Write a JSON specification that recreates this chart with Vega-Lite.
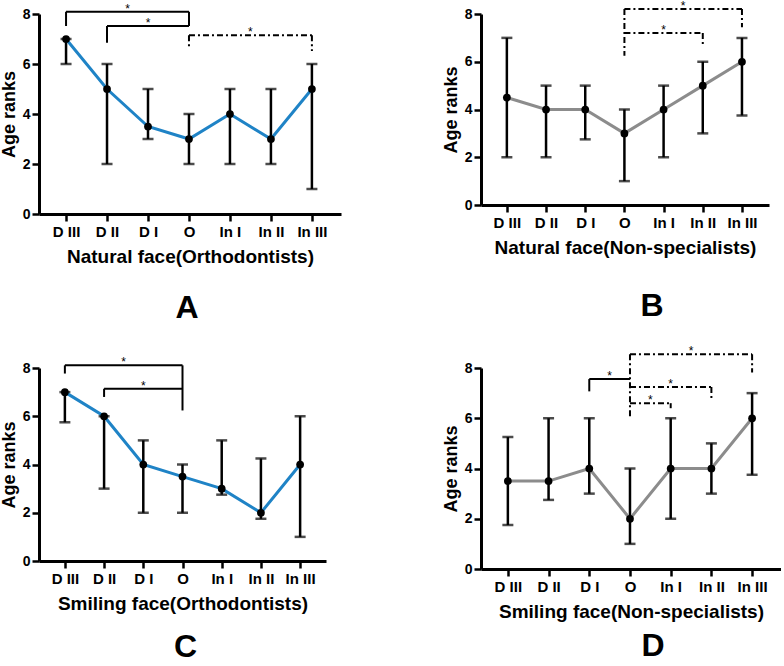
{
  "$schema": "https://vega.github.io/schema/vega-lite/v6.json",
  "background": "white",
  "padding": {"left": 0, "top": -1, "right": 0, "bottom": 0},
  "columns": 2,
  "bounds": "flush",
  "spacing": {"row": 154, "column": 140},
  "datasets": {
    "natOrth": [
      {"group": "D III", "index": 0, "median": 7, "low": 6, "high": 7},
      {"group": "D II", "index": 1, "median": 5, "low": 2, "high": 6},
      {"group": "D I", "index": 2, "median": 3.5, "low": 3, "high": 5},
      {"group": "O", "index": 3, "median": 3, "low": 2, "high": 4},
      {"group": "In I", "index": 4, "median": 4, "low": 2, "high": 5},
      {"group": "In II", "index": 5, "median": 3, "low": 2, "high": 5},
      {"group": "In III", "index": 6, "median": 5, "low": 1, "high": 6}
    ],
    "natNon": [
      {"group": "D III", "index": 0, "median": 4.5, "low": 2, "high": 7},
      {"group": "D II", "index": 1, "median": 4, "low": 2, "high": 5},
      {"group": "D I", "index": 2, "median": 4, "low": 2.75, "high": 5},
      {"group": "O", "index": 3, "median": 3, "low": 1, "high": 4},
      {"group": "In I", "index": 4, "median": 4, "low": 2, "high": 5},
      {"group": "In II", "index": 5, "median": 5, "low": 3, "high": 6},
      {"group": "In III", "index": 6, "median": 6, "low": 3.75, "high": 7}
    ],
    "smiOrth": [
      {"group": "D III", "index": 0, "median": 7, "low": 5.75, "high": 7},
      {"group": "D II", "index": 1, "median": 6, "low": 3, "high": 6},
      {"group": "D I", "index": 2, "median": 4, "low": 2, "high": 5},
      {"group": "O", "index": 3, "median": 3.5, "low": 2, "high": 4},
      {"group": "In I", "index": 4, "median": 3, "low": 2.75, "high": 5},
      {"group": "In II", "index": 5, "median": 2, "low": 1.75, "high": 4.25},
      {"group": "In III", "index": 6, "median": 4, "low": 1, "high": 6}
    ],
    "smiNon": [
      {"group": "D III", "index": 0, "median": 3.5, "low": 1.75, "high": 5.25},
      {"group": "D II", "index": 1, "median": 3.5, "low": 2.75, "high": 6},
      {"group": "D I", "index": 2, "median": 4, "low": 3, "high": 6},
      {"group": "O", "index": 3, "median": 2, "low": 1, "high": 4},
      {"group": "In I", "index": 4, "median": 4, "low": 2, "high": 6},
      {"group": "In II", "index": 5, "median": 4, "low": 3, "high": 5},
      {"group": "In III", "index": 6, "median": 6, "low": 3.75, "high": 7}
    ],
    "natOrthSolid": [
      {"x1": 0, "x2": 3, "y1": 8.09, "y2": 8.09},
      {"x1": 0, "x2": 0, "y1": 8.09, "y2": 7.52},
      {"x1": 3, "x2": 3, "y1": 8.09, "y2": 7.52},
      {"x1": 1, "x2": 3, "y1": 7.52, "y2": 7.52},
      {"x1": 1, "x2": 1, "y1": 7.52, "y2": 6.85}
    ],
    "natOrthDash": [
      {"x1": 3, "x2": 6, "y1": 7.15, "y2": 7.15},
      {"x1": 3, "x2": 3, "y1": 7.15, "y2": 6.65},
      {"x1": 6, "x2": 6, "y1": 7.15, "y2": 6.52}
    ],
    "natOrthStars": [
      {"x": 1.5, "y": 8.09},
      {"x": 2, "y": 7.52},
      {"x": 4.5, "y": 7.15}
    ],
    "natNonDash": [
      {"x1": 3, "x2": 6, "y1": 8.21, "y2": 8.21},
      {"x1": 6, "x2": 6, "y1": 8.21, "y2": 7.44},
      {"x1": 3, "x2": 3, "y1": 8.21, "y2": 6.25},
      {"x1": 3, "x2": 5, "y1": 7.2, "y2": 7.2},
      {"x1": 5, "x2": 5, "y1": 7.2, "y2": 6.67}
    ],
    "natNonStars": [
      {"x": 4.5, "y": 8.21},
      {"x": 4, "y": 7.2}
    ],
    "smiOrthSolid": [
      {"x1": 0, "x2": 3, "y1": 8.11, "y2": 8.11},
      {"x1": 0, "x2": 0, "y1": 8.11, "y2": 7.77},
      {"x1": 3, "x2": 3, "y1": 8.11, "y2": 6.24},
      {"x1": 1, "x2": 3, "y1": 7.14, "y2": 7.14},
      {"x1": 1, "x2": 1, "y1": 7.14, "y2": 6.8}
    ],
    "smiOrthStars": [
      {"x": 1.5, "y": 8.11},
      {"x": 2, "y": 7.14}
    ],
    "smiNonSolid": [
      {"x1": 2, "x2": 3, "y1": 7.56, "y2": 7.56},
      {"x1": 2, "x2": 2, "y1": 7.56, "y2": 7.07}
    ],
    "smiNonDash": [
      {"x1": 3, "x2": 3, "y1": 8.55, "y2": 6.07},
      {"x1": 3, "x2": 6, "y1": 8.55, "y2": 8.55},
      {"x1": 6, "x2": 6, "y1": 8.55, "y2": 7.82},
      {"x1": 3, "x2": 5, "y1": 7.24, "y2": 7.24},
      {"x1": 5, "x2": 5, "y1": 7.24, "y2": 6.74},
      {"x1": 3, "x2": 4, "y1": 6.6, "y2": 6.6},
      {"x1": 4, "x2": 4, "y1": 6.6, "y2": 6.4}
    ],
    "smiNonStars": [
      {"x": 2.5, "y": 7.56},
      {"x": 4.5, "y": 8.55},
      {"x": 4, "y": 7.24},
      {"x": 3.5, "y": 6.6}
    ]
  },
  "concat": [
    {
      "width": 302, "height": 200,
      "title": {"text": "A", "orient": "bottom", "fontSize": 32, "fontWeight": "bold", "offset": 27, "dx": -3, "color": "black"},
      "layer": [
        {"data": {"name": "natOrth"}, "mark": {"type": "rule", "color": "black", "strokeWidth": 2.5},
         "encoding": {
           "x": {"field": "index", "type": "quantitative", "scale": {"domain": [-0.66, 6.71], "nice": false, "zero": false},
                 "axis": {"title": "Natural face(Orthodontists)", "values": [0, 1, 2, 3, 4, 5, 6], "labelExpr": "['D III','D II','D I','O','In I','In II','In III'][datum.value]"}},
           "y": {"field": "low", "type": "quantitative", "scale": {"domain": [0, 8], "nice": false},
                 "axis": {"title": "Age ranks", "values": [0, 2, 4, 6, 8]}},
           "y2": {"field": "high"}}},
        {"data": {"name": "natOrth"}, "mark": {"type": "tick", "orient": "horizontal", "color": "black", "thickness": 2.5, "size": 11},
         "encoding": {"x": {"field": "index", "type": "quantitative"}, "y": {"field": "low", "type": "quantitative"}}},
        {"data": {"name": "natOrth"}, "mark": {"type": "tick", "orient": "horizontal", "color": "black", "thickness": 2.5, "size": 11},
         "encoding": {"x": {"field": "index", "type": "quantitative"}, "y": {"field": "high", "type": "quantitative"}}},
        {"data": {"name": "natOrth"}, "mark": {"type": "line", "color": "#1f83c6", "strokeWidth": 3},
         "encoding": {"x": {"field": "index", "type": "quantitative"}, "y": {"field": "median", "type": "quantitative"}}},
        {"data": {"name": "natOrth"}, "mark": {"type": "circle", "color": "black", "size": 60, "opacity": 1},
         "encoding": {"x": {"field": "index", "type": "quantitative"}, "y": {"field": "median", "type": "quantitative"}}},
        {"data": {"name": "natOrthSolid"}, "mark": {"type": "rule", "color": "black", "strokeWidth": 2},
         "encoding": {"x": {"field": "x1", "type": "quantitative"}, "x2": {"field": "x2"}, "y": {"field": "y1", "type": "quantitative"}, "y2": {"field": "y2"}}},
        {"data": {"name": "natOrthDash"}, "mark": {"type": "rule", "color": "black", "strokeWidth": 2, "strokeDash": [6, 3, 2, 3]},
         "encoding": {"x": {"field": "x1", "type": "quantitative"}, "x2": {"field": "x2"}, "y": {"field": "y1", "type": "quantitative"}, "y2": {"field": "y2"}}},
        {"data": {"name": "natOrthStars"}, "mark": {"type": "text", "text": "*", "fontSize": 12, "baseline": "alphabetic", "dy": 1, "color": "black"},
         "encoding": {"x": {"field": "x", "type": "quantitative"}, "y": {"field": "y", "type": "quantitative"}}}
      ]
    },
    {
      "width": 288, "height": 191,
      "title": {"text": "B", "orient": "bottom", "fontSize": 32, "fontWeight": "bold", "offset": 34, "dx": 27, "color": "black"},
      "layer": [
        {"data": {"name": "natNon"}, "mark": {"type": "rule", "color": "black", "strokeWidth": 2.5},
         "encoding": {
           "x": {"field": "index", "type": "quantitative", "scale": {"domain": [-0.66, 6.69], "nice": false, "zero": false},
                 "axis": {"title": "Natural face(Non-specialists)", "values": [0, 1, 2, 3, 4, 5, 6], "labelExpr": "['D III','D II','D I','O','In I','In II','In III'][datum.value]"}},
           "y": {"field": "low", "type": "quantitative", "scale": {"domain": [0, 8], "nice": false},
                 "axis": {"title": "Age ranks", "values": [0, 2, 4, 6, 8]}},
           "y2": {"field": "high"}}},
        {"data": {"name": "natNon"}, "mark": {"type": "tick", "orient": "horizontal", "color": "black", "thickness": 2.5, "size": 11},
         "encoding": {"x": {"field": "index", "type": "quantitative"}, "y": {"field": "low", "type": "quantitative"}}},
        {"data": {"name": "natNon"}, "mark": {"type": "tick", "orient": "horizontal", "color": "black", "thickness": 2.5, "size": 11},
         "encoding": {"x": {"field": "index", "type": "quantitative"}, "y": {"field": "high", "type": "quantitative"}}},
        {"data": {"name": "natNon"}, "mark": {"type": "line", "color": "#8c8c8c", "strokeWidth": 3},
         "encoding": {"x": {"field": "index", "type": "quantitative"}, "y": {"field": "median", "type": "quantitative"}}},
        {"data": {"name": "natNon"}, "mark": {"type": "circle", "color": "black", "size": 60, "opacity": 1},
         "encoding": {"x": {"field": "index", "type": "quantitative"}, "y": {"field": "median", "type": "quantitative"}}},
        {"data": {"name": "natNonDash"}, "mark": {"type": "rule", "color": "black", "strokeWidth": 2, "strokeDash": [6, 3, 2, 3]},
         "encoding": {"x": {"field": "x1", "type": "quantitative"}, "x2": {"field": "x2"}, "y": {"field": "y1", "type": "quantitative"}, "y2": {"field": "y2"}}},
        {"data": {"name": "natNonStars"}, "mark": {"type": "text", "text": "*", "fontSize": 12, "baseline": "alphabetic", "dy": 1, "color": "black"},
         "encoding": {"x": {"field": "x", "type": "quantitative"}, "y": {"field": "y", "type": "quantitative"}}}
      ]
    },
    {
      "width": 287, "height": 193,
      "title": {"text": "C", "orient": "bottom", "fontSize": 32, "fontWeight": "bold", "offset": 19, "dx": 3, "color": "black"},
      "layer": [
        {"data": {"name": "smiOrth"}, "mark": {"type": "rule", "color": "black", "strokeWidth": 2.5},
         "encoding": {
           "x": {"field": "index", "type": "quantitative", "scale": {"domain": [-0.66, 6.66], "nice": false, "zero": false},
                 "axis": {"title": "Smiling face(Orthodontists)", "values": [0, 1, 2, 3, 4, 5, 6], "labelExpr": "['D III','D II','D I','O','In I','In II','In III'][datum.value]"}},
           "y": {"field": "low", "type": "quantitative", "scale": {"domain": [0, 8], "nice": false},
                 "axis": {"title": "Age ranks", "values": [0, 2, 4, 6, 8]}},
           "y2": {"field": "high"}}},
        {"data": {"name": "smiOrth"}, "mark": {"type": "tick", "orient": "horizontal", "color": "black", "thickness": 2.5, "size": 11},
         "encoding": {"x": {"field": "index", "type": "quantitative"}, "y": {"field": "low", "type": "quantitative"}}},
        {"data": {"name": "smiOrth"}, "mark": {"type": "tick", "orient": "horizontal", "color": "black", "thickness": 2.5, "size": 11},
         "encoding": {"x": {"field": "index", "type": "quantitative"}, "y": {"field": "high", "type": "quantitative"}}},
        {"data": {"name": "smiOrth"}, "mark": {"type": "line", "color": "#1f83c6", "strokeWidth": 3},
         "encoding": {"x": {"field": "index", "type": "quantitative"}, "y": {"field": "median", "type": "quantitative"}}},
        {"data": {"name": "smiOrth"}, "mark": {"type": "circle", "color": "black", "size": 60, "opacity": 1},
         "encoding": {"x": {"field": "index", "type": "quantitative"}, "y": {"field": "median", "type": "quantitative"}}},
        {"data": {"name": "smiOrthSolid"}, "mark": {"type": "rule", "color": "black", "strokeWidth": 2},
         "encoding": {"x": {"field": "x1", "type": "quantitative"}, "x2": {"field": "x2"}, "y": {"field": "y1", "type": "quantitative"}, "y2": {"field": "y2"}}},
        {"data": {"name": "smiOrthStars"}, "mark": {"type": "text", "text": "*", "fontSize": 12, "baseline": "alphabetic", "dy": 1, "color": "black"},
         "encoding": {"x": {"field": "x", "type": "quantitative"}, "y": {"field": "y", "type": "quantitative"}}}
      ]
    },
    {
      "width": 300, "height": 201,
      "title": {"text": "D", "orient": "bottom", "fontSize": 32, "fontWeight": "bold", "offset": 10, "dx": 22, "color": "black"},
      "layer": [
        {"data": {"name": "smiNon"}, "mark": {"type": "rule", "color": "black", "strokeWidth": 2.5},
         "encoding": {
           "x": {"field": "index", "type": "quantitative", "scale": {"domain": [-0.66, 6.71], "nice": false, "zero": false},
                 "axis": {"title": "Smiling face(Non-specialists)", "values": [0, 1, 2, 3, 4, 5, 6], "labelExpr": "['D III','D II','D I','O','In I','In II','In III'][datum.value]"}},
           "y": {"field": "low", "type": "quantitative", "scale": {"domain": [0, 8], "nice": false},
                 "axis": {"title": "Age ranks", "values": [0, 2, 4, 6, 8]}},
           "y2": {"field": "high"}}},
        {"data": {"name": "smiNon"}, "mark": {"type": "tick", "orient": "horizontal", "color": "black", "thickness": 2.5, "size": 11},
         "encoding": {"x": {"field": "index", "type": "quantitative"}, "y": {"field": "low", "type": "quantitative"}}},
        {"data": {"name": "smiNon"}, "mark": {"type": "tick", "orient": "horizontal", "color": "black", "thickness": 2.5, "size": 11},
         "encoding": {"x": {"field": "index", "type": "quantitative"}, "y": {"field": "high", "type": "quantitative"}}},
        {"data": {"name": "smiNon"}, "mark": {"type": "line", "color": "#8c8c8c", "strokeWidth": 3},
         "encoding": {"x": {"field": "index", "type": "quantitative"}, "y": {"field": "median", "type": "quantitative"}}},
        {"data": {"name": "smiNon"}, "mark": {"type": "circle", "color": "black", "size": 60, "opacity": 1},
         "encoding": {"x": {"field": "index", "type": "quantitative"}, "y": {"field": "median", "type": "quantitative"}}},
        {"data": {"name": "smiNonSolid"}, "mark": {"type": "rule", "color": "black", "strokeWidth": 2},
         "encoding": {"x": {"field": "x1", "type": "quantitative"}, "x2": {"field": "x2"}, "y": {"field": "y1", "type": "quantitative"}, "y2": {"field": "y2"}}},
        {"data": {"name": "smiNonDash"}, "mark": {"type": "rule", "color": "black", "strokeWidth": 2, "strokeDash": [6, 3, 2, 3]},
         "encoding": {"x": {"field": "x1", "type": "quantitative"}, "x2": {"field": "x2"}, "y": {"field": "y1", "type": "quantitative"}, "y2": {"field": "y2"}}},
        {"data": {"name": "smiNonStars"}, "mark": {"type": "text", "text": "*", "fontSize": 12, "baseline": "alphabetic", "dy": 1, "color": "black"},
         "encoding": {"x": {"field": "x", "type": "quantitative"}, "y": {"field": "y", "type": "quantitative"}}}
      ]
    }
  ],
  "config": {
    "font": "Liberation Sans",
    "view": {"stroke": null},
    "title": {"font": "Liberation Sans"},
    "axis": {
      "grid": false,
      "domainColor": "black",
      "domainWidth": 3,
      "tickColor": "black",
      "tickWidth": 2.5,
      "tickSize": 7,
      "labelColor": "black",
      "labelFont": "Liberation Sans",
      "labelFontWeight": "bold",
      "titleColor": "black",
      "titleFont": "Liberation Sans",
      "titleFontWeight": "bold",
      "titleFontSize": 18
    },
    "axisX": {"labelFontSize": 15, "labelPadding": 3, "titlePadding": 8, "titleFontSize": 19, "labelFlush": false, "labelOverlap": false},
    "axisY": {"labelFontSize": 14, "labelPadding": 2, "titlePadding": 4}
  }
}
